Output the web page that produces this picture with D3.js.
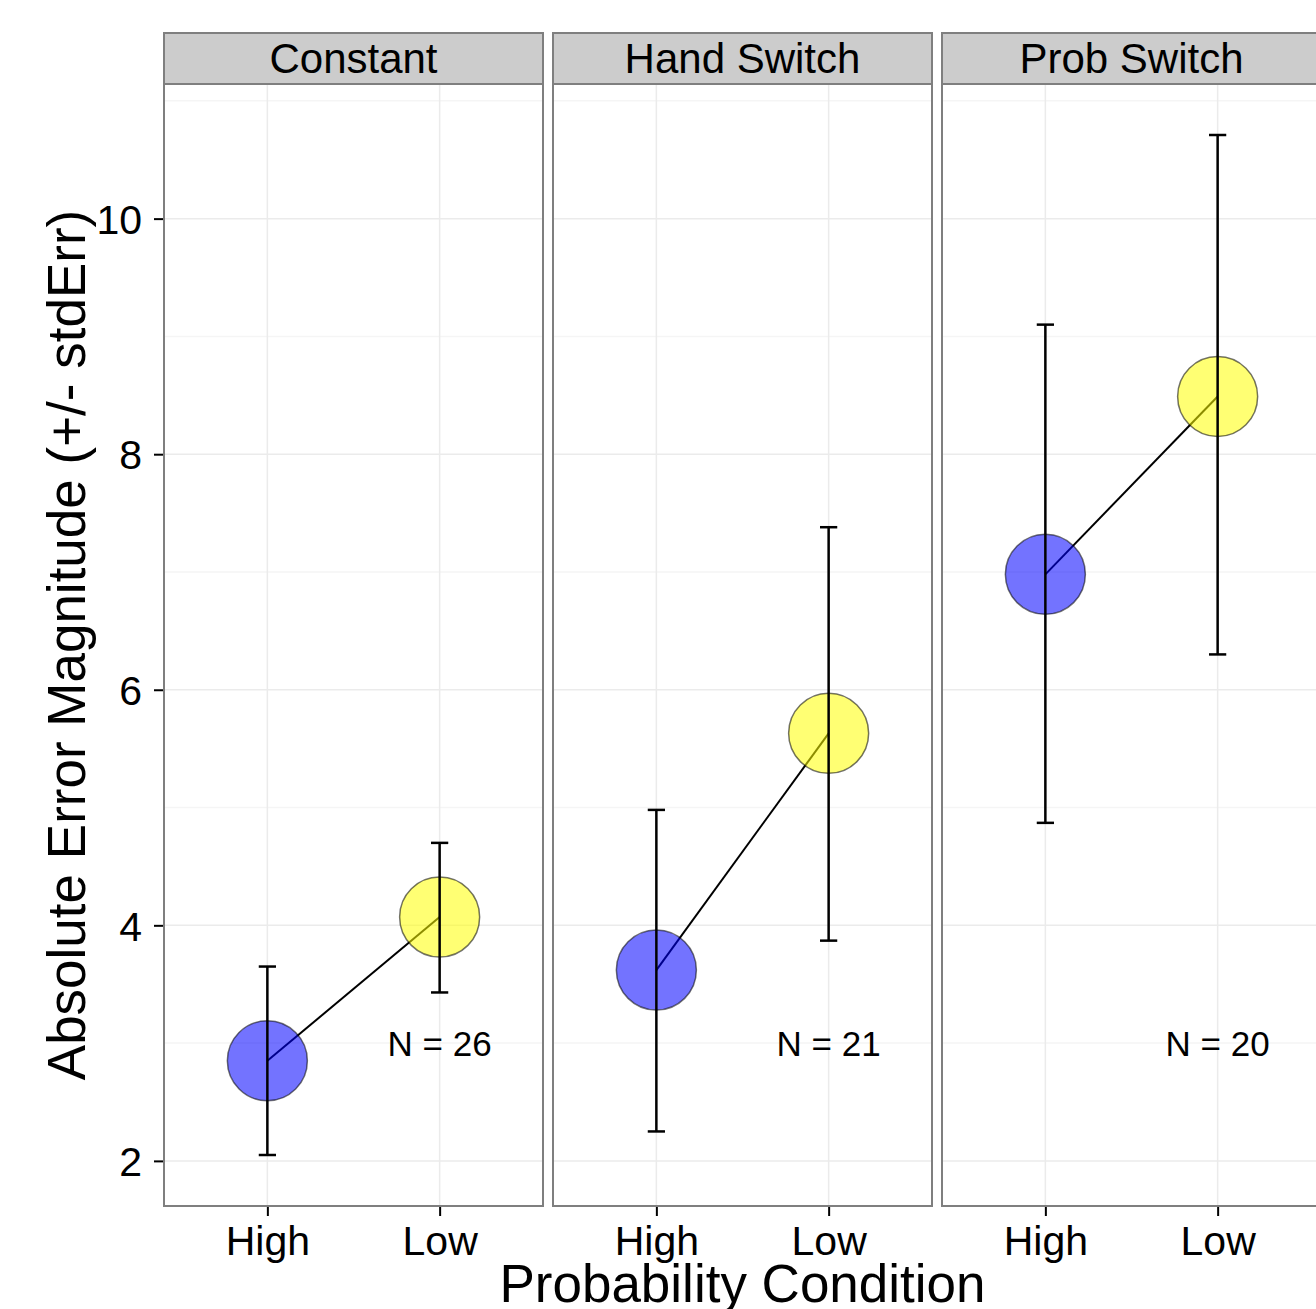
<!DOCTYPE html>
<html>
<head>
<meta charset="utf-8">
<script src="https://cdn.jsdelivr.net/npm/d3@7"></script>
<style>
    body { margin: 0; background: #fff; }
    text { font-family: "Liberation Sans", Arial, Helvetica, sans-serif; }
</style>
</head>
<body>
<div id="chart"></div>
<script>
/* data */
const conditions = ['Constant', 'Hand Switch', 'Prob Switch'];
const probLevels = ['High', 'Low'];
const meanErr = [[2.85, 4.07], [3.62, 5.63], [6.98, 8.49]];
const lowerErr = [[2.05, 3.43], [2.25, 3.87], [4.87, 6.30]];
const upperErr = [[3.65, 4.70], [4.98, 7.38], [9.10, 10.71]];
const nSubjects = [26, 21, 20];
const yTicks = [2, 4, 6, 8, 10];
const yMinorTicks = [1, 3, 5, 7, 9, 11];

const width = 1316;
const height = 1309;
const panelLeft = 164;
const panelWidth = 379;
const panelGap = 10;
const panelTop = 84;
const panelBottom = 1206;
const stripTop = 33;

const svg = d3.select('#chart')
    .append('svg')
    .attr('width', width)
    .attr('height', height);

/* y scale with ggplot style 5% expansion */
const allLow = d3.min(lowerErr.flat());
const allHigh = d3.max(upperErr.flat());
const pad = (allHigh - allLow) * 0.05;
const yScale = d3.scaleLinear()
    .domain([allLow - pad, allHigh + pad])
    .range([panelBottom, panelTop]);

const xScale = d3.scalePoint()
    .domain(probLevels)
    .range([0, panelWidth])
    .padding(0.6);

const capHalf = xScale.step() * 0.05;
const fills = { High: '#0000ff', Low: '#ffff00' };

conditions.forEach((cond, ci) => {
    const x0 = panelLeft + ci * (panelWidth + panelGap);
    const g = svg.append('g').attr('transform', `translate(${x0},0)`);

    const rows = probLevels.map((p, pi) => ({
        prob: p,
        mean: meanErr[ci][pi],
        lo: lowerErr[ci][pi],
        hi: upperErr[ci][pi]
    }));

    /* panel background */
    g.append('rect')
        .attr('x', 0).attr('y', panelTop)
        .attr('width', panelWidth).attr('height', panelBottom - panelTop)
        .attr('fill', '#fff');

    /* minor gridlines */
    g.selectAll('.minor')
        .data(yMinorTicks.filter(t => yScale(t) > panelTop && yScale(t) < panelBottom))
        .join('line')
        .attr('x1', 0).attr('x2', panelWidth)
        .attr('y1', d => yScale(d)).attr('y2', d => yScale(d))
        .attr('stroke', '#f5f5f5')
        .attr('stroke-width', 1.5);

    /* major gridlines */
    g.selectAll('.majorY')
        .data(yTicks)
        .join('line')
        .attr('x1', 0).attr('x2', panelWidth)
        .attr('y1', d => yScale(d)).attr('y2', d => yScale(d))
        .attr('stroke', '#ebebeb')
        .attr('stroke-width', 1.5);

    g.selectAll('.majorX')
        .data(probLevels)
        .join('line')
        .attr('x1', d => xScale(d)).attr('x2', d => xScale(d))
        .attr('y1', panelTop).attr('y2', panelBottom)
        .attr('stroke', '#ebebeb')
        .attr('stroke-width', 1.5);

    /* line between means */
    const line = d3.line()
        .x(d => xScale(d.prob))
        .y(d => yScale(d.mean));

    g.append('path')
        .datum(rows)
        .attr('d', line)
        .attr('fill', 'none')
        .attr('stroke', '#000')
        .attr('stroke-width', 2);

    /* points */
    g.selectAll('circle')
        .data(rows)
        .join('circle')
        .attr('cx', d => xScale(d.prob))
        .attr('cy', d => yScale(d.mean))
        .attr('r', 40)
        .attr('fill', d => fills[d.prob])
        .attr('fill-opacity', 0.55)
        .attr('stroke', '#000')
        .attr('stroke-opacity', 0.55)
        .attr('stroke-width', 1.5);

    /* error bars */
    const bars = g.selectAll('.errbar')
        .data(rows)
        .join('g');

    bars.append('line')
        .attr('x1', d => xScale(d.prob)).attr('x2', d => xScale(d.prob))
        .attr('y1', d => yScale(d.lo)).attr('y2', d => yScale(d.hi))
        .attr('stroke', '#000').attr('stroke-width', 2.5);

    ['lo', 'hi'].forEach(k => {
        bars.append('line')
            .attr('x1', d => xScale(d.prob) - capHalf)
            .attr('x2', d => xScale(d.prob) + capHalf)
            .attr('y1', d => yScale(d[k])).attr('y2', d => yScale(d[k]))
            .attr('stroke', '#000').attr('stroke-width', 2.5);
    });

    /* N label */
    g.append('text')
        .text(`N = ${nSubjects[ci]}`)
        .attr('x', xScale('Low'))
        .attr('y', yScale(3) + 0.358 * 35)
        .attr('text-anchor', 'middle')
        .attr('font-size', 35)
        .attr('fill', '#000');

    /* panel border */
    g.append('rect')
        .attr('x', 0).attr('y', panelTop)
        .attr('width', panelWidth).attr('height', panelBottom - panelTop)
        .attr('fill', 'none')
        .attr('stroke', '#7f7f7f')
        .attr('stroke-width', 2);

    /* strip */
    g.append('rect')
        .attr('x', 0).attr('y', stripTop)
        .attr('width', panelWidth).attr('height', panelTop - stripTop)
        .attr('fill', '#cccccc')
        .attr('stroke', '#7f7f7f')
        .attr('stroke-width', 2);

    g.append('text')
        .text(cond)
        .attr('x', panelWidth / 2)
        .attr('y', 73)
        .attr('text-anchor', 'middle')
        .attr('font-size', 42)
        .attr('fill', '#000');

    /* x axis ticks and labels */
    const xAxis = d3.axisBottom(xScale).tickSize(9).tickPadding(8);
    const xg = g.append('g')
        .attr('transform', `translate(0,${panelBottom + 1})`)
        .call(xAxis);
    xg.select('.domain').remove();
    xg.selectAll('line').attr('stroke', '#000').attr('stroke-width', 2);
    xg.selectAll('text')
        .attr('font-size', 41)
        .attr('fill', '#000')
        .attr('dy', null)
        .attr('y', 48);
});

/* y axis on the first panel */
const yAxis = d3.axisLeft(yScale).tickValues(yTicks).tickSize(9).tickPadding(12);
const yg = svg.append('g')
    .attr('transform', `translate(${panelLeft - 1},0)`)
    .call(yAxis);
yg.select('.domain').remove();
yg.selectAll('line').attr('stroke', '#000').attr('stroke-width', 2);
yg.selectAll('text')
    .attr('font-size', 41)
    .attr('fill', '#000')
    .attr('dy', '0.358em');

/* x label */
svg.append('text')
    .text('Probability Condition')
    .attr('x', panelLeft + (3 * panelWidth + 2 * panelGap) / 2)
    .attr('y', 1302)
    .attr('text-anchor', 'middle')
    .attr('font-size', 53)
    .attr('fill', '#000');

/* y label */
svg.append('text')
    .text('Absolute Error Magnitude (+/- stdErr)')
    .attr('transform', `translate(85,${(panelTop + panelBottom) / 2}) rotate(-90)`)
    .attr('text-anchor', 'middle')
    .attr('font-size', 53)
    .attr('fill', '#000');
</script>
</body>
</html>
